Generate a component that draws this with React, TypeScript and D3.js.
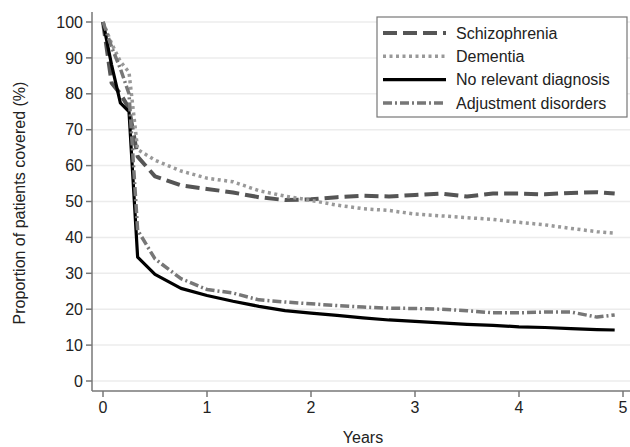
import React from 'react';
import * as d3 from 'd3';

// time in years (monthly for the first months, then quarterly)
const years = [0, 0.083, 0.167, 0.25, 0.333, 0.5, 0.75, 1, 1.25, 1.5, 1.75, 2, 2.25, 2.5, 2.75, 3, 3.25, 3.5, 3.75, 4, 4.25, 4.5, 4.75, 4.92];

const schizophrenia = [100, 83, 80, 76, 62.5, 57, 54.5, 53.5, 52.5, 51.2, 50.4, 50.6, 51.2, 51.6, 51.4, 51.8, 52.2, 51.4, 52.2, 52.2, 52, 52.4, 52.6, 52.2];
const dementia = [100, 94, 89, 86, 64.5, 61.5, 58.5, 56.5, 55.5, 53, 51.5, 50.3, 49, 48, 47.5, 46.5, 46, 45.5, 45, 44.2, 43.5, 42.5, 41.6, 41.2];
const noDiagnosis = [100, 88, 77.5, 75, 34.5, 29.7, 25.8, 23.8, 22.2, 20.8, 19.6, 18.9, 18.3, 17.6, 17.0, 16.6, 16.2, 15.8, 15.5, 15.1, 14.9, 14.6, 14.3, 14.2];
const adjustment = [100, 93, 87, 80, 42, 34, 28.5, 25.5, 24.5, 22.6, 22.0, 21.5, 21.0, 20.6, 20.3, 20.2, 20.0, 19.6, 19.0, 19.0, 19.2, 19.2, 17.8, 18.4];

const xTicks = [0, 1, 2, 3, 4, 5];
const yTicks = [0, 10, 20, 30, 40, 50, 60, 70, 80, 90, 100];

const series = [
  { label: 'Schizophrenia', values: schizophrenia, color: '#555', width: 4, dash: '14,6' },
  { label: 'Dementia', values: dementia, color: '#999', width: 3.5, dash: '3,3.5' },
  { label: 'No relevant diagnosis', values: noDiagnosis, color: '#000', width: 3.2, dash: null },
  { label: 'Adjustment disorders', values: adjustment, color: '#777', width: 3.5, dash: '9,3,2,3' },
];

const font = '"Liberation Sans", Arial, Helvetica, sans-serif';

export default function App() {
  const width = 630;
  const height = 447;
  const axisLeft = 92;
  const axisBottom = 391;

  const x = d3.scaleLinear().domain([0, 5]).range([103, 623]);
  const y = d3.scaleLinear().domain([0, 100]).range([381, 22]);

  const line = d3.line<number>()
    .x((d, i) => x(years[i]))
    .y(d => y(d));

  return (
    <svg width={width} height={height} style={{ position: 'absolute', left: 0, top: 0, background: '#fff' }}
      fontFamily={font}>
      {/* grid */}
      {yTicks.map(t => (
        <line key={'g' + t} x1={axisLeft} x2={630} y1={y(t)} y2={y(t)} stroke="#ececec" strokeWidth={1.5} />
      ))}

      {/* axes */}
      <line x1={axisLeft} x2={axisLeft} y1={12} y2={axisBottom} stroke="#777" strokeWidth={1.5} />
      <line x1={axisLeft} x2={630} y1={axisBottom} y2={axisBottom} stroke="#777" strokeWidth={1.5} />

      {yTicks.map(t => (
        <g key={'y' + t}>
          <line x1={axisLeft - 6} x2={axisLeft} y1={y(t)} y2={y(t)} stroke="#777" strokeWidth={1.5} />
          <text x={axisLeft - 9} y={y(t)} dy="0.35em" textAnchor="end" fontSize={16} fill="#222">{t}</text>
        </g>
      ))}
      {xTicks.map(t => (
        <g key={'x' + t}>
          <line x1={x(t)} x2={x(t)} y1={axisBottom} y2={axisBottom + 6} stroke="#777" strokeWidth={1.5} />
          <text x={x(t)} y={413} textAnchor="middle" fontSize={16} fill="#222">{t}</text>
        </g>
      ))}

      <text x={363} y={443} textAnchor="middle" fontSize={16} fill="#222">Years</text>
      <text transform="translate(25,203) rotate(-90)" textAnchor="middle" fontSize={16} fill="#222">
        Proportion of patients covered (%)
      </text>

      {/* lines */}
      {series.map(s => (
        <path key={s.label} d={line(s.values) || ''} fill="none" stroke={s.color}
          strokeWidth={s.width} strokeDasharray={s.dash || undefined} strokeLinejoin="round" />
      ))}

      {/* legend */}
      <rect x={377} y={17} width={250} height={100} fill="#fff" stroke="#777" strokeWidth={1.2} />
      {series.map((s, i) => (
        <g key={'l' + s.label}>
          <line x1={383} x2={446} y1={33 + i * 23.3} y2={33 + i * 23.3} stroke={s.color}
            strokeWidth={s.width} strokeDasharray={s.dash || undefined} />
          <text x={456} y={33 + i * 23.3} dy="0.35em" fontSize={16} fill="#222">{s.label}</text>
        </g>
      ))}
    </svg>
  );
}
